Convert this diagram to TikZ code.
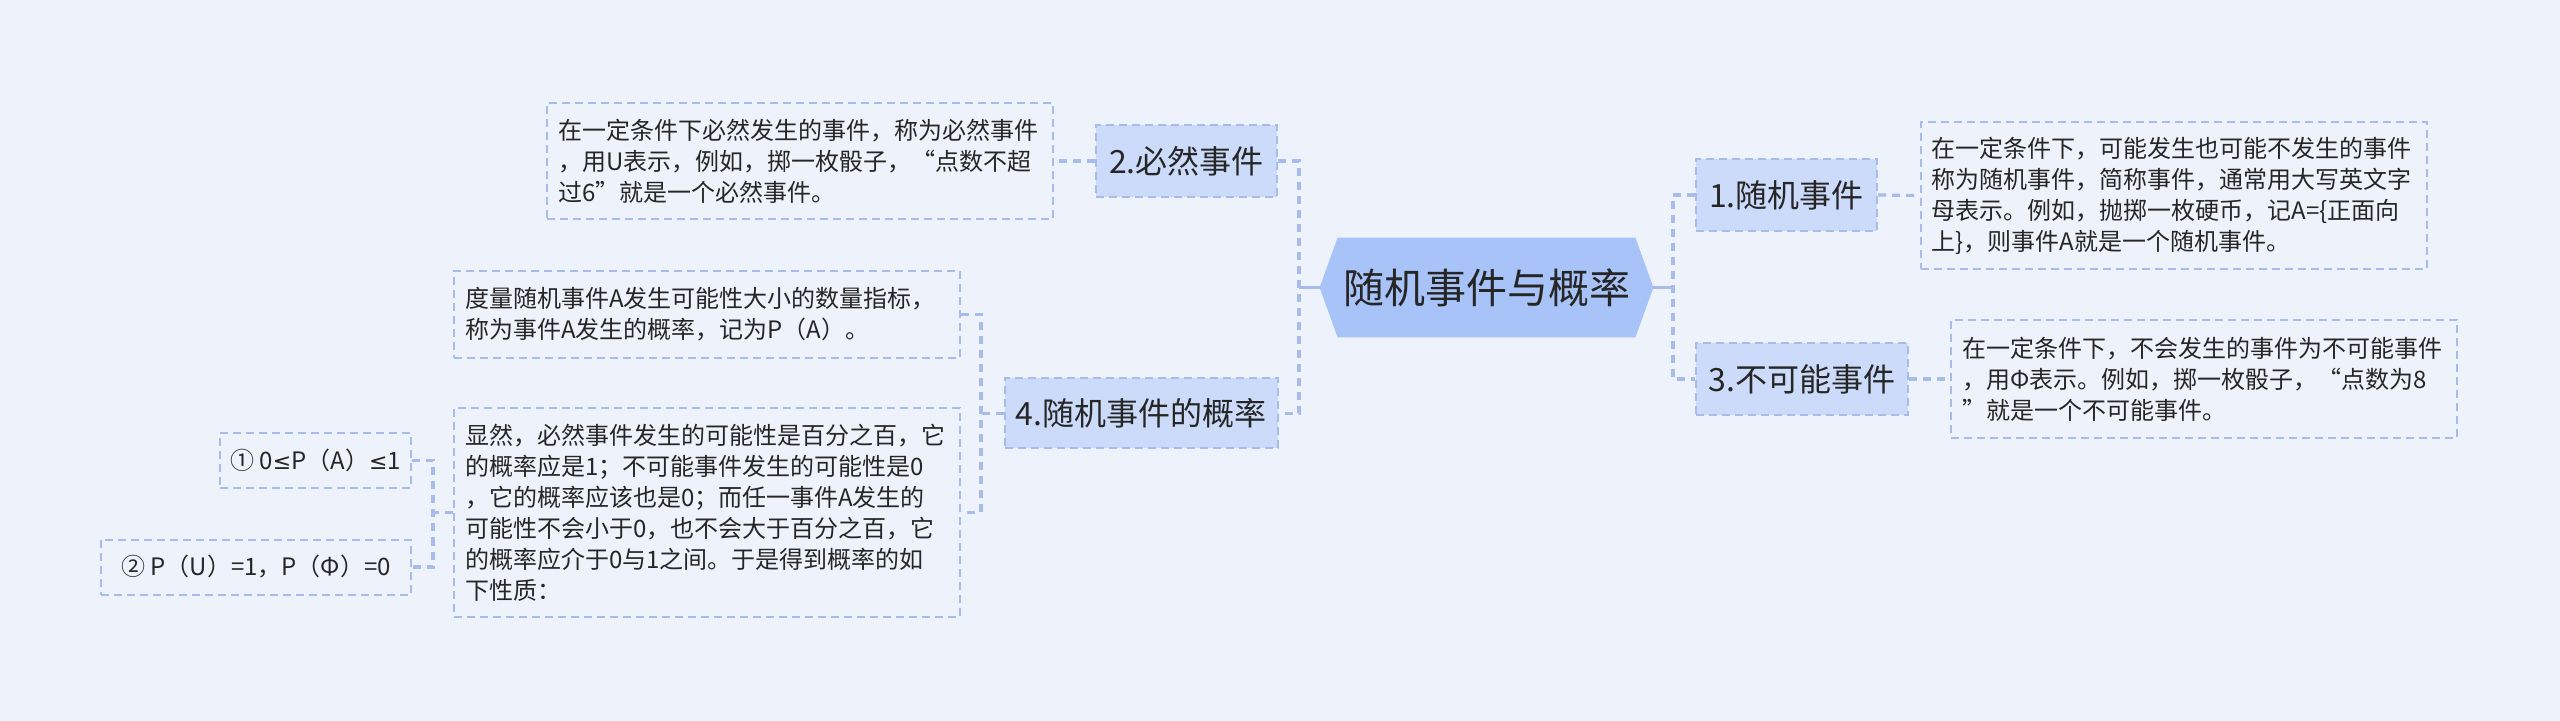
\documentclass[tikz,border=0pt]{standalone}
\usepackage{fontspec}
\setmainfont{Noto Sans CJK SC}
\newfontfamily\symfont{DejaVu Sans}
\usepackage{tikz}
\usetikzlibrary{backgrounds}
\definecolor{pagebg}{HTML}{EEF2FB}
\definecolor{topicblue}{HTML}{A8C3F8}
\definecolor{branchblue}{HTML}{CCDBFA}
\definecolor{edgeblue}{HTML}{A7BCEA}
\definecolor{inkgray}{HTML}{262626}

\begin{document}
\begin{tikzpicture}[x=0.5pt, y=-0.5pt,
    branch/.style={draw=edgeblue, fill=branchblue, line width=1pt, dash pattern=on 4pt off 2.5pt,
                   minimum height=36pt, inner sep=2pt, font=\fontsize{16}{19}\selectfont, text=inkgray},
    note/.style={draw=edgeblue, line width=1pt, dash pattern=on 4pt off 2.5pt, inner xsep=5.5pt,
                 text width=242pt, align=left, font=\fontsize{12}{15.5}\selectfont, text=inkgray},
    leaf/.style={draw=edgeblue, line width=1pt, dash pattern=on 4pt off 2.5pt,
                 minimum height=27.5pt, align=center, font=\fontsize{12}{15.5}\selectfont, text=inkgray},
    link/.style={draw=edgeblue, line width=1.6pt, dash pattern=on 4pt off 3pt},
    rootlink/.style={draw=edgeblue, line width=1.6pt},
]
    % Page
    \useasboundingbox (0,0) rectangle (2560,721);

    % Central topic
    \node[font=\fontsize{20.5}{24}\selectfont, text=inkgray,
          minimum width=166.5pt, minimum height=49.5pt, inner sep=0pt] (topic) at (1486.5,287.5) {随机事件与概率};
    \begin{pgfonlayer}{background}
        \fill[pagebg] (0,0) rectangle (2560,721);
        \fill[topicblue] (topic.west) -- ([xshift=9pt]topic.north west) -- ([xshift=-9pt]topic.north east)
            -- (topic.east) -- ([xshift=-9pt]topic.south east) -- ([xshift=9pt]topic.south west) -- cycle;
    \end{pgfonlayer}

    % Right side
    \node[branch, minimum width=90.5pt] (random) at (1786.5,195) {1.随机事件};
    \node[branch, minimum width=106pt] (impossible) at (1802,379) {3.不可能事件};
    \node[note, minimum height=73.5pt] (randomtxt) at (2173.5,195.5) {
        在一定条件下，可能发生也可能不发生的事件\\
        称为随机事件，简称事件，通常用大写英文字\\
        母表示。例如，抛掷一枚硬币，记A=\{正面向\\
        上\}，则事件A就是一个随机事件。};
    \node[note, minimum height=59pt] (impossibletxt) at (2204,379) {
        在一定条件下，不会发生的事件为不可能事件\\
        ，用Φ表示。例如，掷一枚骰子，“点数为8\\
        ”就是一个不可能事件。};

    % Left side
    \node[branch, minimum width=90.5pt] (certain) at (1186.5,161) {2.必然事件};
    \node[branch, minimum width=136.5pt, minimum height=35pt] (prob) at (1141,413.5) {4.随机事件的概率};
    \node[note, minimum height=58pt] (certaintxt) at (800,161) {
        在一定条件下必然发生的事件，称为必然事件\\
        ，用U表示，例如，掷一枚骰子，“点数不超\\
        过6”就是一个必然事件。};
    \node[note, minimum height=43.5pt] (probdef) at (707,314.5) {
        度量随机事件A发生可能性大小的数量指标，\\
        称为事件A发生的概率，记为P（A）。};
    \node[note, minimum height=104.5pt] (probprop) at (707,512.5) {
        显然，必然事件发生的可能性是百分之百，它\\
        的概率应是1；不可能事件发生的可能性是0\\
        ，它的概率应该也是0；而任一事件A发生的\\
        可能性不会小于0，也不会大于百分之百，它\\
        的概率应介于0与1之间。于是得到概率的如\\
        下性质：};
    \node[leaf, minimum width=95.5pt] (propa) at (315.5,460.5) {① 0{\symfont\fontsize{11}{15.5}\selectfont ≤}P（A）{\symfont\fontsize{11}{15.5}\selectfont ≤}1};
    \node[leaf, minimum width=155pt] (propb) at (256,567) {② P（U）=1，P（Φ）=0};

    % Trunks
    \coordinate (rtrunk) at (1673,287.5);
    \coordinate (ltrunk) at (1299,287.5);
    \coordinate (ptrunk) at (981,413.5);
    \coordinate (qtrunk) at (433,512.5);

    % Connectors
    \draw[rootlink] (topic.east) -- (topic.east -| rtrunk);
    \draw[link] (random.west) -- (random.west -| rtrunk) -- (impossible.west -| rtrunk) -- (impossible.west);
    \draw[rootlink] (topic.west) -- (topic.west -| ltrunk);
    \draw[link] (certain.east) -- (certain.east -| ltrunk) -- (prob.east -| ltrunk) -- (prob.east);
    \draw[link] (random.east) -- (randomtxt.west);
    \draw[link] (impossible.east) -- (impossibletxt.west);
    \draw[link] (certain.west) -- (certaintxt.east);
    \draw[link] (prob.west) -- (prob.west -| ptrunk);
    \draw[link] (probdef.east) -- (probdef.east -| ptrunk) -- (probprop.east -| ptrunk) -- (probprop.east);
    \draw[link] (probprop.west) -- (probprop.west -| qtrunk);
    \draw[link] (propa.east) -- (propa.east -| qtrunk) -- (propb.east -| qtrunk) -- (propb.east);
\end{tikzpicture}
\end{document}
